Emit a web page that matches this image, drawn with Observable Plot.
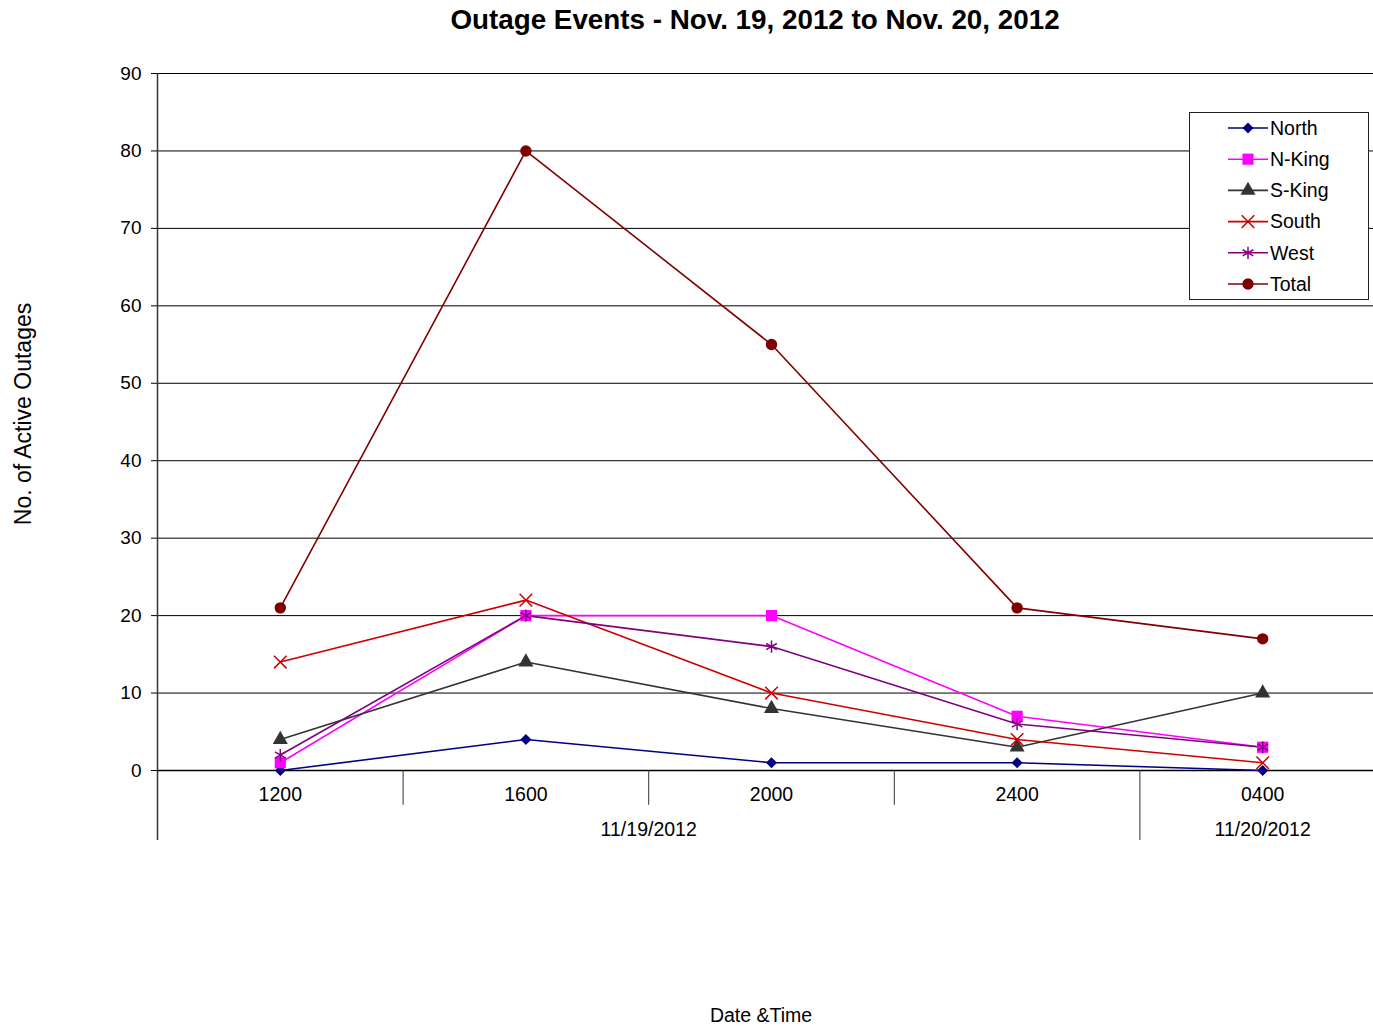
<!DOCTYPE html>
<html>
<head>
<meta charset="utf-8">
<script src="https://cdn.jsdelivr.net/npm/d3@7"></script>
<script src="https://cdn.jsdelivr.net/npm/@observablehq/plot@0.6"></script>
<style>
  html, body { margin: 0; padding: 0; background: #fff; overflow: hidden; }
  #wrap { position: relative; width: 1373px; height: 1029px; font-family: "Liberation Sans", Arial, sans-serif; }
  #title { position: absolute; left: 0; width: 1510px; top: 4px; text-align: center; font-weight: bold; font-size: 27.8px; }
  #ylab { position: absolute; left: 23px; top: 414px; transform: translate(-50%, -50%) rotate(-90deg); font-size: 23px; white-space: nowrap; }
  #xlab { position: absolute; left: 761px; top: 1004px; transform: translateX(-50%); font-size: 19.5px; white-space: nowrap; }
  #legend { position: absolute; left: 1189px; top: 112px; }
</style>
</head>
<body>
<div id="wrap">
  <div id="chart"></div>
  <div id="title">Outage Events - Nov. 19, 2012 to Nov. 20, 2012</div>
  <div id="ylab">No. of Active Outages</div>
  <div id="xlab">Date &amp;Time</div>
  <div id="legend"></div>
</div>
<script>
// ---- data ----
const categories = ["1200", "1600", "2000", "2400", "0400"];
const dates = ["11/19/2012", "11/19/2012", "11/19/2012", "11/19/2012", "11/20/2012"];
const seriesNames = ["North", "N-King", "S-King", "South", "West", "Total"];
const north = [0, 4, 1, 1, 0];
const nKing = [1, 20, 20, 7, 3];
const sKing = [4, 14, 8, 3, 10];
const south = [14, 22, 10, 4, 1];
const west = [2, 20, 16, 6, 3];
const total = [21, 80, 55, 21, 17];
const yTicks = [0, 10, 20, 30, 40, 50, 60, 70, 80, 90];

const seriesValues = [north, nKing, sKing, south, west, total];
const styles = {
  "North":  {color: "#000080", symbol: "square", rotate: 45, filled: true, r: 4.4},
  "N-King": {color: "#FF00FF", symbol: "square", rotate: 0, filled: true, r: 6.3},
  "S-King": {color: "#333333", symbol: "triangle", rotate: 0, filled: true, r: 5.6},
  "South":  {color: "#CC0000", symbol: "times", rotate: 0, filled: false, r: 5.8},
  "West":   {color: "#800080", symbol: "asterisk", rotate: 0, filled: false, r: 5.8},
  "Total":  {color: "#800000", symbol: "circle", rotate: 0, filled: true, r: 5.7}
};

const rows = [];
seriesNames.forEach((s, si) => {
  seriesValues[si].forEach((v, i) => rows.push({series: s, i, cat: categories[i], value: v}));
});

// date groups
const groups = [];
dates.forEach((d, i) => {
  const g = groups[groups.length - 1];
  if (g && g.date === d) g.end = i; else groups.push({date: d, start: i, end: i});
});
const groupCenters = groups.map(g => ({date: g.date, x: (g.start + g.end) / 2}));
const boundaries = [];
for (let i = 0; i < categories.length - 1; i++) {
  boundaries.push({x: i + 0.5, long: dates[i] !== dates[i + 1]});
}
const catRows = categories.map((c, i) => ({cat: c, i}));

const marks = [
  Plot.ruleY(yTicks.filter(t => t > 0), {y: d => d, stroke: "#000", strokeWidth: 1}),
  Plot.axisY({ticks: yTicks, tickSize: 6, tickPadding: 10, fontSize: 19, label: null, tickFormat: d => d, stroke: "#000"}),
  Plot.ruleX([-0.5], {x: d => d, y1: 90, y2: -9.05, stroke: "#333", strokeWidth: 1.5}),
  Plot.ruleY([0], {y: d => d, stroke: "#000", strokeWidth: 1.5}),
  Plot.ruleX(boundaries, {x: "x", y1: 0, y2: d => d.long ? -9.05 : -4.5, stroke: "#333", strokeWidth: 1}),
  Plot.text(catRows, {x: "i", y: 0, text: "cat", dy: 24, fontSize: 19.5, fill: "#000"}),
  Plot.text(groupCenters, {x: "x", y: 0, text: "date", dy: 59, fontSize: 19.5, fill: "#000"})
];

seriesNames.forEach(s => {
  const st = styles[s];
  const data = rows.filter(r => r.series === s);
  marks.push(Plot.line(data, {x: "i", y: "value", stroke: st.color, strokeWidth: 1.6}));
});
seriesNames.forEach(s => {
  const st = styles[s];
  const data = rows.filter(r => r.series === s);
  marks.push(Plot.dot(data, {
    x: "i", y: "value", symbol: () => st.symbol, r: st.r, rotate: st.rotate,
    fill: st.filled ? st.color : "none",
    stroke: st.filled ? "none" : st.color,
    strokeWidth: st.filled ? 0 : 1.5
  }));
});

const chart = Plot.plot({
  width: 1373,
  height: 1029,
  marginLeft: 157,
  marginRight: 0,
  marginTop: 73,
  marginBottom: 259,
  style: {fontFamily: "'Liberation Sans', Arial, sans-serif", background: "#fff", overflow: "hidden"},
  x: {type: "linear", domain: [-0.5, categories.length - 0.5], range: [157, 1385], axis: null},
  y: {domain: [0, 90], axis: null},
  symbol: {type: "identity"},
  marks
});
document.getElementById("chart").appendChild(chart);

// ---- legend ----
const lw = 180, lh = 188;
const leg = d3.select("#legend").append("svg").attr("width", lw).attr("height", lh)
  .style("font-family", "'Liberation Sans', Arial, sans-serif");
leg.append("rect").attr("x", 0.5).attr("y", 0.5).attr("width", lw - 1).attr("height", lh - 1)
  .attr("fill", "#fff").attr("stroke", "#222").attr("stroke-width", 1);
const symMap = {square: d3.symbolSquare, triangle: d3.symbolTriangle,
  times: d3.symbolTimes, asterisk: d3.symbolAsterisk, circle: d3.symbolCircle};
seriesNames.forEach((s, k) => {
  const st = styles[s];
  const y = 16 + k * 31.2;
  const g = leg.append("g").attr("transform", `translate(0,${y})`);
  g.append("line").attr("x1", 39).attr("x2", 79).attr("y1", 0).attr("y2", 0)
    .attr("stroke", st.color).attr("stroke-width", 1.6);
  g.append("path").attr("transform", `translate(59,0) rotate(${st.rotate})`)
    .attr("d", d3.symbol(symMap[st.symbol], Math.PI * st.r * st.r)())
    .attr("fill", st.filled ? st.color : "none")
    .attr("stroke", st.filled ? "none" : st.color)
    .attr("stroke-width", 1.5);
  g.append("text").attr("x", 81).attr("y", 0).attr("dy", "0.35em")
    .attr("font-size", 19.5).text(s);
});
</script>
</body>
</html>
